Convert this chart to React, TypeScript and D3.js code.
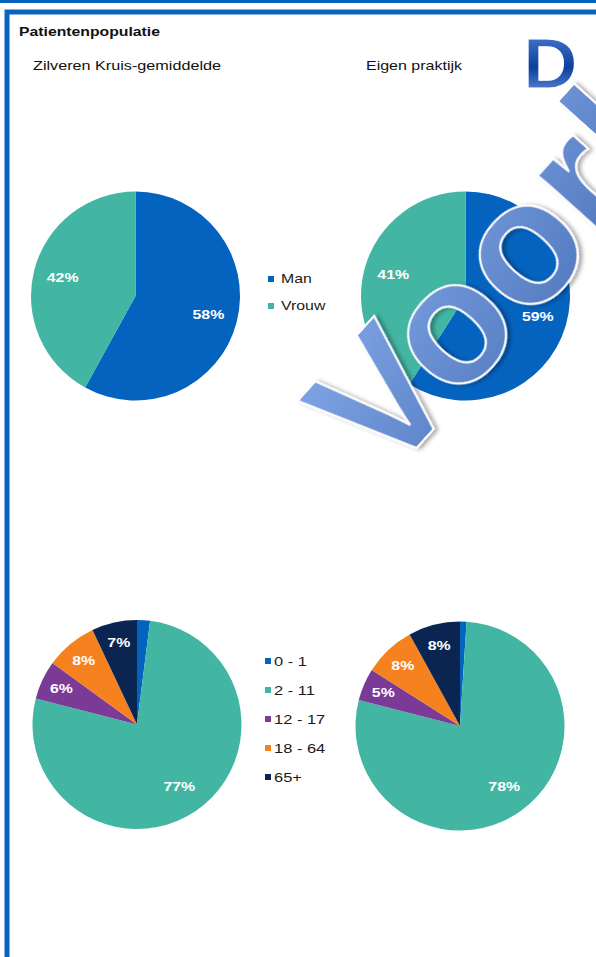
import * as d3 from 'd3'

const genderCategories = ['Man', 'Vrouw']
const genderZk = [58, 42]
const genderEigen = [59, 41]

const ageCategories = ['0 - 1', '2 - 11', '12 - 17', '18 - 64', '65+']
const ageZk = [2, 77, 6, 8, 7]
const ageEigen = [1, 78, 5, 8, 8]

const genderColors = ['#0563C0', '#43B6A3']
const ageColors = ['#0563C0', '#43B6A3', '#7B3A96', '#F5821F', '#0A2551']

const W = 596
const H = 957
const R = 104.5
const SX = 1.22 // the source is horizontally stretched
const font = "'Liberation Sans', Arial, sans-serif"

type PieProps = { cx: number; cy: number; values: number[]; colors: string[] }

const Pie = ({ cx, cy, values, colors }: PieProps) => {
  const pie = d3.pie<number>().sort(null).value((d) => d)
  const arcs = pie(values)
  const arc = d3.arc<d3.PieArcDatum<number>>().innerRadius(0).outerRadius(R)
  const labelPos = (d: d3.PieArcDatum<number>) => {
    const lr = d.data >= 20 ? R * 0.72 : R * 0.8
    return d3.arc<d3.PieArcDatum<number>>().innerRadius(lr).outerRadius(lr).centroid(d)
  }
  return (
    <g transform={`translate(${cx},${cy})`}>
      {arcs.map((d, i) => (
        <path key={i} d={arc(d) || ''} fill={colors[i]} />
      ))}
      {arcs
        .filter((d) => d.data >= 3)
        .map((d, i) => {
          const [x, y] = labelPos(d)
          return (
            <text
              key={i}
              transform={`translate(${x},${y}) scale(${SX},1)`}
              textAnchor='middle'
              dominantBaseline='central'
              fill='#ffffff'
              fontSize={13}
              fontWeight='bold'
              fontFamily={font}
            >
              {d.data}%
            </text>
          )
        })}
    </g>
  )
}

type LegendProps = { x: number; y: number; step: number; items: string[]; colors: string[]; size: number; gap: number }

const Legend = ({ x, y, step, items, colors, size, gap }: LegendProps) => {
  const yScale = d3
    .scalePoint<string>()
    .domain(items)
    .range([y, y + step * (items.length - 1)])
  return (
    <g>
      {items.map((d, i) => (
        <g key={d} transform={`translate(${x},${yScale(d)})`}>
          <rect x={0} y={-3} width={6} height={6} fill={colors[i]} />
          <text
            transform={`translate(${gap},0) scale(${SX},1)`}
            dominantBaseline='central'
            fontSize={size}
            fontFamily={font}
            fill='#1a1a1a'
          >
            {d}
          </text>
        </g>
      ))}
    </g>
  )
}

export default function App() {
  return (
    <div style={{ position: 'absolute', left: 0, top: 0, width: W, height: H, background: '#fff' }}>
      <svg width={W} height={H} style={{ display: 'block' }}>
        <defs>
          <linearGradient id='wm' x1='0' y1='0' x2='1' y2='1'>
            <stop offset='0' stopColor='#84AAEA' />
            <stop offset='1' stopColor='#345CA4' />
          </linearGradient>
          <linearGradient id='dg' x1='0' y1='0' x2='0' y2='1'>
            <stop offset='0' stopColor='#5584D8' />
            <stop offset='0.55' stopColor='#0D3F9F' />
            <stop offset='1' stopColor='#739FE8' />
          </linearGradient>
          <filter id='shadow' x='-20%' y='-20%' width='140%' height='140%'>
            <feDropShadow dx='2' dy='3' stdDeviation='2' floodColor='#000' floodOpacity='0.35' />
          </filter>
        </defs>

        {/* frames */}
        <rect x={0} y={0} width={W} height={3} fill='#0A64BE' />
        <rect x={7} y={12} width={W + 20} height={H + 20} fill='none' stroke='#0A64BE' strokeWidth={5} />

        <text x={19} y={36} fontSize={12} fontWeight='bold' fontFamily={font} fill='#111'
          textLength={141} lengthAdjust='spacingAndGlyphs'>
          Patientenpopulatie
        </text>
        <text x={33} y={70} fontSize={13} fontFamily={font} fill='#111'
          textLength={188} lengthAdjust='spacingAndGlyphs'>
          Zilveren Kruis-gemiddelde
        </text>
        <text x={366} y={70} fontSize={13} fontFamily={font} fill='#111'
          textLength={96} lengthAdjust='spacingAndGlyphs'>
          Eigen praktijk
        </text>

        <Pie cx={135.5} cy={296} values={genderZk} colors={genderColors} />
        <Pie cx={465.5} cy={296} values={genderEigen} colors={genderColors} />
        <Legend x={268} y={279} step={27} items={genderCategories} colors={genderColors} size={13} gap={13} />

        <Pie cx={137} cy={724.5} values={ageZk} colors={ageColors} />
        <Pie cx={460} cy={726} values={ageEigen} colors={ageColors} />
        <Legend x={265} y={661} step={29} items={ageCategories} colors={ageColors} size={13.5} gap={9} />

        {/* watermark */}
        <text
          transform={`translate(523,88) scale(1.08,1)`}
          fontSize={70}
          fontWeight='bold'
          fontFamily={font}
          fill='url(#dg)'
          stroke='#ffffff'
          strokeWidth={1}
        >
          D
        </text>
        <text
          transform='translate(386,482) rotate(-48)'
          fontSize={175}
          fontWeight='bold'
          fontFamily={font}
          fill='url(#wm)'
          stroke='#ffffff'
          strokeWidth={2}
          filter='url(#shadow)'
        >
          Voorbeeld
        </text>
      </svg>
    </div>
  )
}
